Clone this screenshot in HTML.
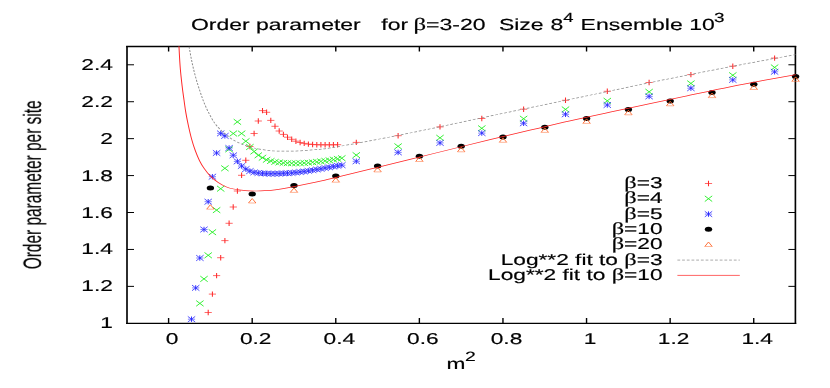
<!DOCTYPE html><html><head><meta charset="utf-8"><title>Order parameter</title>
<style>html,body{margin:0;padding:0;background:#fff;}svg{display:block}text{text-rendering:geometricPrecision;font-family:"Liberation Sans",sans-serif;fill:#000;stroke:#000;stroke-width:0.18px}.s{font-family:"Liberation Serif",serif}</style></head><body>
<svg width="830" height="388" viewBox="0 0 830 388">
<rect x="0" y="0" width="830" height="388" fill="#fff"/>
<g opacity="0.999">
<defs><clipPath id="cp"><rect x="126.8" y="46.3" width="668.9" height="276.8"/></clipPath></defs>
<g stroke="#000" fill="none">
<path d="M127.00 46.00 V323.95 M795.40 46.00 V323.95" stroke-width="1.65"/>
<path d="M126.15 46.50 H796.25 M126.15 323.30 H796.25" stroke-width="1.3"/>
<path d="M168.60 323.30 v-5.3 M168.60 46.50 v4.9 M252.19 323.30 v-5.3 M252.19 46.50 v4.9 M335.78 323.30 v-5.3 M335.78 46.50 v4.9 M419.37 323.30 v-5.3 M419.37 46.50 v4.9 M502.96 323.30 v-5.3 M502.96 46.50 v4.9 M586.55 323.30 v-5.3 M586.55 46.50 v4.9 M670.14 323.30 v-5.3 M670.14 46.50 v4.9 M753.73 323.30 v-5.3 M753.73 46.50 v4.9 " stroke-width="1.4"/>
<path d="M127.00 286.37 h7.0 M795.40 286.37 h-7.0 M127.00 249.44 h7.0 M795.40 249.44 h-7.0 M127.00 212.51 h7.0 M795.40 212.51 h-7.0 M127.00 175.58 h7.0 M795.40 175.58 h-7.0 M127.00 138.65 h7.0 M795.40 138.65 h-7.0 M127.00 101.72 h7.0 M795.40 101.72 h-7.0 M127.00 64.79 h7.0 M795.40 64.79 h-7.0 " stroke-width="1.0"/>
</g>
<text transform="translate(112.9 328.3) scale(1.455 1)" font-size="15.60" text-anchor="end">1</text>
<text transform="translate(112.9 291.4) scale(1.455 1)" font-size="15.60" text-anchor="end">1.2</text>
<text transform="translate(112.9 254.4) scale(1.455 1)" font-size="15.60" text-anchor="end">1.4</text>
<text transform="translate(112.9 217.5) scale(1.455 1)" font-size="15.60" text-anchor="end">1.6</text>
<text transform="translate(112.9 180.6) scale(1.455 1)" font-size="15.60" text-anchor="end">1.8</text>
<text transform="translate(112.9 143.7) scale(1.455 1)" font-size="15.60" text-anchor="end">2</text>
<text transform="translate(112.9 106.7) scale(1.455 1)" font-size="15.60" text-anchor="end">2.2</text>
<text transform="translate(112.9 69.8) scale(1.455 1)" font-size="15.60" text-anchor="end">2.4</text>
<text transform="translate(172.1 344.4) scale(1.455 1)" font-size="15.60" text-anchor="middle">0</text>
<text transform="translate(255.7 344.4) scale(1.455 1)" font-size="15.60" text-anchor="middle">0.2</text>
<text transform="translate(339.3 344.4) scale(1.455 1)" font-size="15.60" text-anchor="middle">0.4</text>
<text transform="translate(422.9 344.4) scale(1.455 1)" font-size="15.60" text-anchor="middle">0.6</text>
<text transform="translate(506.5 344.4) scale(1.455 1)" font-size="15.60" text-anchor="middle">0.8</text>
<text transform="translate(590.1 344.4) scale(1.455 1)" font-size="15.60" text-anchor="middle">1</text>
<text transform="translate(673.6 344.4) scale(1.455 1)" font-size="15.60" text-anchor="middle">1.2</text>
<text transform="translate(757.2 344.4) scale(1.455 1)" font-size="15.60" text-anchor="middle">1.4</text>
<text transform="translate(191.0 30.3) scale(1.435 1)" font-size="16.00" text-anchor="start">Order parameter</text>
<text transform="translate(381.3 30.3) scale(1.435 1)" font-size="16.00" text-anchor="start">for</text>
<text transform="translate(413.5 30.3) scale(1.435 1)" font-size="16.00" text-anchor="start"><tspan class="s" font-size="17.3">β</tspan>=3-20</text>
<text transform="translate(498.9 30.3) scale(1.435 1)" font-size="16.00" text-anchor="start">Size</text>
<text transform="translate(550.4 30.3) scale(1.435 1)" font-size="16.00" text-anchor="start">8</text>
<text transform="translate(563.2 22.0) scale(1.400 1)" font-size="13.20" text-anchor="start">4</text>
<text transform="translate(580.6 30.3) scale(1.435 1)" font-size="16.00" text-anchor="start">Ensemble</text>
<text transform="translate(689.3 30.3) scale(1.435 1)" font-size="16.00" text-anchor="start">10</text>
<text transform="translate(714.0 22.1) scale(1.430 1)" font-size="13.20" text-anchor="start">3</text>
<text transform="translate(446.6 368.9) scale(1.455 1)" font-size="15.60" text-anchor="start">m</text>
<text transform="translate(465.1 360.9) scale(1.430 1)" font-size="13.57" text-anchor="start">2</text>
<text transform="translate(40.9 184.8) rotate(-90) scale(0.617 1)" font-size="25" text-anchor="middle" stroke="none">Order parameter per site</text>
<text transform="translate(662.6 188.0) scale(1.455 1)" font-size="15.60" text-anchor="end"><tspan class="s" font-size="16.8">β</tspan>=3</text>
<text transform="translate(662.6 203.4) scale(1.455 1)" font-size="15.60" text-anchor="end"><tspan class="s" font-size="16.8">β</tspan>=4</text>
<text transform="translate(662.6 218.8) scale(1.455 1)" font-size="15.60" text-anchor="end"><tspan class="s" font-size="16.8">β</tspan>=5</text>
<text transform="translate(662.6 234.1) scale(1.455 1)" font-size="15.60" text-anchor="end"><tspan class="s" font-size="16.8">β</tspan>=10</text>
<text transform="translate(662.6 249.4) scale(1.455 1)" font-size="15.60" text-anchor="end"><tspan class="s" font-size="16.8">β</tspan>=20</text>
<text transform="translate(662.6 264.7) scale(1.455 1)" font-size="15.60" text-anchor="end">Log**2 fit to <tspan class="s" font-size="16.8">β</tspan>=3</text>
<text transform="translate(662.6 280.0) scale(1.455 1)" font-size="15.60" text-anchor="end">Log**2 fit to <tspan class="s" font-size="16.8">β</tspan>=10</text>
<path d="M677.4 260.1 H739.8" stroke="#8c8c8c" stroke-width="0.72" stroke-dasharray="2.8 1.9" fill="none"/>
<path d="M677.4 275.4 H739.8" stroke="#ff2828" stroke-width="0.72" fill="none"/>
<path d="M204.6 312.5 h7.2 M208.8 294.1 h7.2 M213.0 275.6 h7.2 M217.1 257.7 h7.2 M221.3 240.6 h7.2 M225.5 223.3 h7.2 M229.7 207.0 h7.2 M233.8 191.0 h7.2 M238.0 175.3 h7.2 M242.2 160.3 h7.2 M246.3 146.5 h7.2 M250.5 133.5 h7.2 M254.7 121.0 h7.2 M258.9 110.6 h7.2 M263.0 112.3 h7.2 M267.2 120.4 h7.2 M271.4 126.3 h7.2 M275.6 131.0 h7.2 M279.8 134.4 h7.2 M283.9 137.2 h7.2 M288.1 139.3 h7.2 M292.3 141.2 h7.2 M296.4 142.5 h7.2 M300.6 143.4 h7.2 M304.8 144.1 h7.2 M309.0 144.5 h7.2 M313.1 144.7 h7.2 M317.3 144.8 h7.2 M321.5 144.8 h7.2 M325.7 144.8 h7.2 M329.8 144.8 h7.2 M334.0 144.7 h7.2 M352.7 142.4 h7.2 M394.5 135.7 h7.2 M436.4 126.9 h7.2 M478.2 118.5 h7.2 M520.0 109.2 h7.2 M561.9 100.3 h7.2 M603.7 91.3 h7.2 M645.5 82.5 h7.2 M687.3 74.6 h7.2 M729.2 66.2 h7.2 M771.0 58.1 h7.2 M704.9 183.5 h7.2 " stroke="#ff2a2a" stroke-width="0.7" fill="none"/>
<path d="M208.2 309.8 v5.4 M212.4 291.4 v5.4 M216.6 272.9 v5.4 M220.7 255.0 v5.4 M224.9 237.9 v5.4 M229.1 220.6 v5.4 M233.2 204.3 v5.4 M237.4 188.3 v5.4 M241.6 172.6 v5.4 M245.8 157.6 v5.4 M249.9 143.8 v5.4 M254.1 130.8 v5.4 M258.3 118.3 v5.4 M262.5 107.9 v5.4 M266.6 109.6 v5.4 M270.8 117.7 v5.4 M275.0 123.6 v5.4 M279.2 128.3 v5.4 M283.4 131.7 v5.4 M287.5 134.5 v5.4 M291.7 136.6 v5.4 M295.9 138.5 v5.4 M300.1 139.8 v5.4 M304.2 140.7 v5.4 M308.4 141.4 v5.4 M312.6 141.8 v5.4 M316.8 142.0 v5.4 M320.9 142.1 v5.4 M325.1 142.1 v5.4 M329.3 142.1 v5.4 M333.4 142.1 v5.4 M337.6 142.0 v5.4 M356.3 139.7 v5.4 M398.1 133.0 v5.4 M440.0 124.2 v5.4 M481.8 115.8 v5.4 M523.6 106.5 v5.4 M565.5 97.6 v5.4 M607.3 88.6 v5.4 M649.1 79.8 v5.4 M690.9 71.9 v5.4 M732.8 63.5 v5.4 M774.6 55.4 v5.4 M708.5 180.8 v5.4 " stroke="#ff2a2a" stroke-width="1.05" fill="none"/>
<path d="M196.2 300.6 l7.4 5.6 M196.2 306.2 l7.4 -5.6 M200.3 276.1 l7.4 5.6 M200.3 281.7 l7.4 -5.6 M204.5 252.5 l7.4 5.6 M204.5 258.1 l7.4 -5.6 M208.7 229.4 l7.4 5.6 M208.7 235.0 l7.4 -5.6 M212.9 207.3 l7.4 5.6 M212.9 212.9 l7.4 -5.6 M217.0 185.9 l7.4 5.6 M217.0 191.5 l7.4 -5.6 M221.2 165.5 l7.4 5.6 M221.2 171.1 l7.4 -5.6 M225.4 146.5 l7.4 5.6 M225.4 152.1 l7.4 -5.6 M229.6 130.7 l7.4 5.6 M229.6 136.3 l7.4 -5.6 M233.7 119.1 l7.4 5.6 M233.7 124.7 l7.4 -5.6 M237.9 130.7 l7.4 5.6 M237.9 136.3 l7.4 -5.6 M242.1 138.4 l7.4 5.6 M242.1 144.0 l7.4 -5.6 M246.2 144.2 l7.4 5.6 M246.2 149.8 l7.4 -5.6 M250.4 148.7 l7.4 5.6 M250.4 154.3 l7.4 -5.6 M254.6 152.5 l7.4 5.6 M254.6 158.1 l7.4 -5.6 M258.8 154.9 l7.4 5.6 M258.8 160.5 l7.4 -5.6 M262.9 157.0 l7.4 5.6 M262.9 162.6 l7.4 -5.6 M267.1 158.2 l7.4 5.6 M267.1 163.8 l7.4 -5.6 M271.3 159.1 l7.4 5.6 M271.3 164.7 l7.4 -5.6 M275.5 159.7 l7.4 5.6 M275.5 165.3 l7.4 -5.6 M279.7 160.1 l7.4 5.6 M279.7 165.7 l7.4 -5.6 M283.8 160.4 l7.4 5.6 M283.8 166.0 l7.4 -5.6 M288.0 160.5 l7.4 5.6 M288.0 166.1 l7.4 -5.6 M292.2 160.5 l7.4 5.6 M292.2 166.1 l7.4 -5.6 M296.4 160.4 l7.4 5.6 M296.4 166.0 l7.4 -5.6 M300.5 160.2 l7.4 5.6 M300.5 165.8 l7.4 -5.6 M304.7 159.9 l7.4 5.6 M304.7 165.5 l7.4 -5.6 M308.9 159.5 l7.4 5.6 M308.9 165.1 l7.4 -5.6 M313.1 159.1 l7.4 5.6 M313.1 164.7 l7.4 -5.6 M317.2 158.6 l7.4 5.6 M317.2 164.2 l7.4 -5.6 M321.4 158.1 l7.4 5.6 M321.4 163.7 l7.4 -5.6 M325.6 157.5 l7.4 5.6 M325.6 163.1 l7.4 -5.6 M329.8 156.8 l7.4 5.6 M329.8 162.4 l7.4 -5.6 M333.9 156.1 l7.4 5.6 M333.9 161.7 l7.4 -5.6 M338.1 155.4 l7.4 5.6 M338.1 161.0 l7.4 -5.6 M352.6 152.3 l7.4 5.6 M352.6 157.9 l7.4 -5.6 M394.4 143.5 l7.4 5.6 M394.4 149.1 l7.4 -5.6 M436.3 135.0 l7.4 5.6 M436.3 140.6 l7.4 -5.6 M478.1 125.5 l7.4 5.6 M478.1 131.1 l7.4 -5.6 M519.9 115.9 l7.4 5.6 M519.9 121.5 l7.4 -5.6 M561.8 106.6 l7.4 5.6 M561.8 112.2 l7.4 -5.6 M603.6 98.0 l7.4 5.6 M603.6 103.6 l7.4 -5.6 M645.4 89.0 l7.4 5.6 M645.4 94.6 l7.4 -5.6 M687.2 80.6 l7.4 5.6 M687.2 86.2 l7.4 -5.6 M729.1 72.4 l7.4 5.6 M729.1 78.0 l7.4 -5.6 M770.9 64.6 l7.4 5.6 M770.9 70.2 l7.4 -5.6 M704.8 195.9 l7.4 5.6 M704.8 201.5 l7.4 -5.6 " stroke="#22ee22" stroke-width="0.9" fill="none"/>
<path d="M187.9 319.2 h7.2 M192.1 287.9 h7.2 M196.2 258.0 h7.2 M200.4 229.5 h7.2 M204.6 201.7 h7.2 M208.8 176.7 h7.2 M213.0 153.0 h7.2 M217.1 133.4 h7.2 M221.3 135.9 h7.2 M225.5 148.0 h7.2 M229.7 155.3 h7.2 M233.8 161.4 h7.2 M238.0 166.0 h7.2 M242.2 169.1 h7.2 M246.3 171.1 h7.2 M250.5 172.4 h7.2 M254.7 173.0 h7.2 M258.9 173.4 h7.2 M263.0 173.6 h7.2 M267.2 173.7 h7.2 M271.4 173.7 h7.2 M275.6 173.6 h7.2 M279.8 173.4 h7.2 M283.9 173.2 h7.2 M288.1 172.9 h7.2 M292.3 172.5 h7.2 M296.4 172.0 h7.2 M300.6 171.5 h7.2 M304.8 170.9 h7.2 M309.0 170.2 h7.2 M313.1 169.5 h7.2 M317.3 168.8 h7.2 M321.5 168.0 h7.2 M325.7 167.3 h7.2 M329.8 166.5 h7.2 M334.0 165.8 h7.2 M338.2 165.2 h7.2 M352.7 161.3 h7.2 M394.5 152.4 h7.2 M436.4 142.9 h7.2 M478.2 133.1 h7.2 M520.0 123.3 h7.2 M561.9 114.3 h7.2 M603.7 105.0 h7.2 M645.5 96.4 h7.2 M687.3 88.2 h7.2 M729.2 79.9 h7.2 M771.0 71.8 h7.2 M704.9 214.1 h7.2 " stroke="#2a2aff" stroke-width="0.6" fill="none"/>
<path d="M191.5 316.5 v5.4 M195.7 285.2 v5.4 M199.8 255.3 v5.4 M204.0 226.8 v5.4 M208.2 199.0 v5.4 M212.4 174.0 v5.4 M216.6 150.3 v5.4 M220.7 130.7 v5.4 M224.9 133.2 v5.4 M229.1 145.3 v5.4 M233.2 152.6 v5.4 M237.4 158.7 v5.4 M241.6 163.3 v5.4 M245.8 166.4 v5.4 M249.9 168.4 v5.4 M254.1 169.7 v5.4 M258.3 170.3 v5.4 M262.5 170.7 v5.4 M266.6 170.9 v5.4 M270.8 171.0 v5.4 M275.0 171.0 v5.4 M279.2 170.9 v5.4 M283.4 170.7 v5.4 M287.5 170.5 v5.4 M291.7 170.2 v5.4 M295.9 169.8 v5.4 M300.1 169.3 v5.4 M304.2 168.8 v5.4 M308.4 168.2 v5.4 M312.6 167.5 v5.4 M316.8 166.8 v5.4 M320.9 166.1 v5.4 M325.1 165.3 v5.4 M329.3 164.6 v5.4 M333.4 163.8 v5.4 M337.6 163.1 v5.4 M341.8 162.5 v5.4 M356.3 158.6 v5.4 M398.1 149.7 v5.4 M440.0 140.2 v5.4 M481.8 130.4 v5.4 M523.6 120.6 v5.4 M565.5 111.6 v5.4 M607.3 102.3 v5.4 M649.1 93.7 v5.4 M690.9 85.5 v5.4 M732.8 77.2 v5.4 M774.6 69.1 v5.4 M708.5 211.4 v5.4 " stroke="#2a2aff" stroke-width="0.95" fill="none"/>
<path d="M187.8 316.4 l7.4 5.6 M187.8 322.0 l7.4 -5.6 M192.0 285.1 l7.4 5.6 M192.0 290.7 l7.4 -5.6 M196.2 255.2 l7.4 5.6 M196.2 260.8 l7.4 -5.6 M200.3 226.7 l7.4 5.6 M200.3 232.3 l7.4 -5.6 M204.5 198.9 l7.4 5.6 M204.5 204.5 l7.4 -5.6 M208.7 173.9 l7.4 5.6 M208.7 179.5 l7.4 -5.6 M212.9 150.2 l7.4 5.6 M212.9 155.8 l7.4 -5.6 M217.0 130.6 l7.4 5.6 M217.0 136.2 l7.4 -5.6 M221.2 133.1 l7.4 5.6 M221.2 138.7 l7.4 -5.6 M225.4 145.2 l7.4 5.6 M225.4 150.8 l7.4 -5.6 M229.6 152.5 l7.4 5.6 M229.6 158.1 l7.4 -5.6 M233.7 158.6 l7.4 5.6 M233.7 164.2 l7.4 -5.6 M237.9 163.2 l7.4 5.6 M237.9 168.8 l7.4 -5.6 M242.1 166.3 l7.4 5.6 M242.1 171.9 l7.4 -5.6 M246.2 168.3 l7.4 5.6 M246.2 173.9 l7.4 -5.6 M250.4 169.6 l7.4 5.6 M250.4 175.2 l7.4 -5.6 M254.6 170.2 l7.4 5.6 M254.6 175.8 l7.4 -5.6 M258.8 170.6 l7.4 5.6 M258.8 176.2 l7.4 -5.6 M262.9 170.8 l7.4 5.6 M262.9 176.4 l7.4 -5.6 M267.1 170.9 l7.4 5.6 M267.1 176.5 l7.4 -5.6 M271.3 170.9 l7.4 5.6 M271.3 176.5 l7.4 -5.6 M275.5 170.8 l7.4 5.6 M275.5 176.4 l7.4 -5.6 M279.7 170.6 l7.4 5.6 M279.7 176.2 l7.4 -5.6 M283.8 170.4 l7.4 5.6 M283.8 176.0 l7.4 -5.6 M288.0 170.1 l7.4 5.6 M288.0 175.7 l7.4 -5.6 M292.2 169.7 l7.4 5.6 M292.2 175.3 l7.4 -5.6 M296.4 169.2 l7.4 5.6 M296.4 174.8 l7.4 -5.6 M300.5 168.7 l7.4 5.6 M300.5 174.3 l7.4 -5.6 M304.7 168.1 l7.4 5.6 M304.7 173.7 l7.4 -5.6 M308.9 167.4 l7.4 5.6 M308.9 173.0 l7.4 -5.6 M313.1 166.7 l7.4 5.6 M313.1 172.3 l7.4 -5.6 M317.2 166.0 l7.4 5.6 M317.2 171.6 l7.4 -5.6 M321.4 165.2 l7.4 5.6 M321.4 170.8 l7.4 -5.6 M325.6 164.5 l7.4 5.6 M325.6 170.1 l7.4 -5.6 M329.8 163.7 l7.4 5.6 M329.8 169.3 l7.4 -5.6 M333.9 163.0 l7.4 5.6 M333.9 168.6 l7.4 -5.6 M338.1 162.4 l7.4 5.6 M338.1 168.0 l7.4 -5.6 M352.6 158.5 l7.4 5.6 M352.6 164.1 l7.4 -5.6 M394.4 149.6 l7.4 5.6 M394.4 155.2 l7.4 -5.6 M436.3 140.1 l7.4 5.6 M436.3 145.7 l7.4 -5.6 M478.1 130.3 l7.4 5.6 M478.1 135.9 l7.4 -5.6 M519.9 120.5 l7.4 5.6 M519.9 126.1 l7.4 -5.6 M561.8 111.5 l7.4 5.6 M561.8 117.1 l7.4 -5.6 M603.6 102.2 l7.4 5.6 M603.6 107.8 l7.4 -5.6 M645.4 93.6 l7.4 5.6 M645.4 99.2 l7.4 -5.6 M687.2 85.4 l7.4 5.6 M687.2 91.0 l7.4 -5.6 M729.1 77.1 l7.4 5.6 M729.1 82.7 l7.4 -5.6 M770.9 69.0 l7.4 5.6 M770.9 74.6 l7.4 -5.6 M704.8 211.3 l7.4 5.6 M704.8 216.9 l7.4 -5.6 " stroke="#2a2aff" stroke-width="0.8" fill="none"/>
<ellipse cx="210.4" cy="187.9" rx="3.7" ry="2.5" fill="#000"/>
<ellipse cx="252.2" cy="194.0" rx="3.7" ry="2.5" fill="#000"/>
<ellipse cx="294.0" cy="185.6" rx="3.7" ry="2.5" fill="#000"/>
<ellipse cx="335.8" cy="176.0" rx="3.7" ry="2.5" fill="#000"/>
<ellipse cx="377.6" cy="166.1" rx="3.7" ry="2.5" fill="#000"/>
<ellipse cx="419.4" cy="156.3" rx="3.7" ry="2.5" fill="#000"/>
<ellipse cx="461.2" cy="146.3" rx="3.7" ry="2.5" fill="#000"/>
<ellipse cx="503.0" cy="137.1" rx="3.7" ry="2.5" fill="#000"/>
<ellipse cx="544.8" cy="127.2" rx="3.7" ry="2.5" fill="#000"/>
<ellipse cx="586.6" cy="118.4" rx="3.7" ry="2.5" fill="#000"/>
<ellipse cx="628.4" cy="109.4" rx="3.7" ry="2.5" fill="#000"/>
<ellipse cx="670.2" cy="101.1" rx="3.7" ry="2.5" fill="#000"/>
<ellipse cx="712.0" cy="92.6" rx="3.7" ry="2.5" fill="#000"/>
<ellipse cx="753.8" cy="84.3" rx="3.7" ry="2.5" fill="#000"/>
<ellipse cx="795.6" cy="76.4" rx="3.7" ry="2.5" fill="#000"/>
<ellipse cx="708.5" cy="229.3" rx="3.7" ry="2.5" fill="#000"/>
<path d="M206.7 209.2 L210.4 204.7 L214.1 209.2 M248.5 203.0 L252.2 198.5 L255.9 203.0 M290.3 192.4 L294.0 187.9 L297.7 192.4 M332.1 182.2 L335.8 177.7 L339.5 182.2 M373.9 171.9 L377.6 167.4 L381.3 171.9 M415.7 161.5 L419.4 157.0 L423.1 161.5 M457.5 151.8 L461.2 147.3 L464.9 151.8 M499.3 142.3 L503.0 137.8 L506.7 142.3 M541.1 132.4 L544.8 127.9 L548.5 132.4 M582.9 123.4 L586.6 118.9 L590.3 123.4 M624.7 114.8 L628.4 110.3 L632.1 114.8 M666.5 105.8 L670.2 101.3 L673.9 105.8 M708.3 97.6 L712.0 93.1 L715.7 97.6 M750.1 89.5 L753.8 85.0 L757.5 89.5 M791.9 81.4 L795.6 76.9 L799.3 81.4 M704.8 246.5 L708.5 242.0 L712.2 246.5 " stroke="#ff6a30" stroke-width="0.95" fill="none" stroke-linejoin="miter"/>
<path d="M206.7 209.2 h7.4 M248.5 203.0 h7.4 M290.3 192.4 h7.4 M332.1 182.2 h7.4 M373.9 171.9 h7.4 M415.7 161.5 h7.4 M457.5 151.8 h7.4 M499.3 142.3 h7.4 M541.1 132.4 h7.4 M582.9 123.4 h7.4 M624.7 114.8 h7.4 M666.5 105.8 h7.4 M708.3 97.6 h7.4 M750.1 89.5 h7.4 M791.9 81.4 h7.4 M704.8 246.5 h7.4 " stroke="#ff6a30" stroke-width="0.5" fill="none"/>
<g clip-path="url(#cp)"><g transform="scale(1.40 1)">
<path d="M133.43 30.00 C133.71 32.85 134.48 41.42 135.14 47.10 C135.81 52.78 136.58 58.68 137.43 64.10 C138.27 69.52 139.29 74.97 140.21 79.60 C141.14 84.23 142.11 88.17 143.00 91.90 C143.89 95.63 144.58 98.58 145.57 102.00 C146.56 105.42 147.63 108.87 148.93 112.40 C150.23 115.93 151.80 120.12 153.36 123.20 C154.92 126.28 156.63 128.63 158.29 130.90 C159.94 133.17 161.63 135.08 163.29 136.80 C164.94 138.52 166.50 139.90 168.21 141.20 C169.93 142.50 171.37 143.47 173.57 144.60 C175.77 145.73 178.27 147.00 181.43 148.00 C184.58 149.00 188.81 150.07 192.50 150.60 C196.19 151.13 199.89 151.17 203.57 151.20 C207.25 151.23 210.90 151.07 214.57 150.80 C218.24 150.53 222.05 150.07 225.57 149.60 C229.10 149.13 229.26 149.47 235.71 148.00 C242.17 146.53 254.76 143.30 264.29 140.80 C273.81 138.30 283.33 135.70 292.86 133.00 C302.38 130.30 311.90 127.42 321.43 124.60 C330.95 121.78 340.48 118.92 350.00 116.10 C359.52 113.28 369.05 110.48 378.57 107.70 C388.10 104.92 397.62 102.18 407.14 99.40 C416.67 96.62 426.19 93.80 435.71 91.00 C445.24 88.20 454.76 85.33 464.29 82.60 C473.81 79.87 483.33 77.24 492.86 74.60 C502.38 71.96 512.50 69.15 521.43 66.75 C530.36 64.35 538.57 62.24 546.43 60.20 C554.29 58.16 564.88 55.45 568.57 54.50" fill="none" stroke="#8c8c8c" stroke-width="0.72" stroke-dasharray="2.0 1.35"/>
<path d="M127.29 30.00 C127.38 32.85 127.62 40.90 127.86 47.10 C128.10 53.30 128.35 60.75 128.71 67.20 C129.08 73.65 129.62 80.33 130.07 85.80 C130.52 91.27 130.99 95.57 131.43 100.00 C131.87 104.43 132.21 108.28 132.71 112.40 C133.21 116.52 133.75 120.32 134.43 124.70 C135.11 129.08 135.94 134.38 136.79 138.70 C137.63 143.02 138.54 146.92 139.50 150.60 C140.46 154.28 141.50 157.80 142.57 160.80 C143.64 163.80 144.63 166.02 145.93 168.60 C147.23 171.18 148.70 173.98 150.36 176.30 C152.01 178.62 154.02 180.77 155.86 182.50 C157.69 184.23 159.51 185.62 161.36 186.70 C163.20 187.78 165.08 188.42 166.93 189.00 C168.77 189.58 170.58 189.88 172.43 190.20 C174.27 190.52 176.15 190.77 178.00 190.90 C179.85 191.03 181.67 191.03 183.50 191.00 C185.33 190.97 186.85 190.90 189.00 190.70 C191.15 190.50 192.79 190.53 196.43 189.80 C200.07 189.07 206.00 187.57 210.86 186.30 C215.71 185.03 221.43 183.43 225.57 182.20 C229.71 180.97 229.26 181.07 235.71 178.90 C242.17 176.73 254.76 172.44 264.29 169.20 C273.81 165.96 283.33 162.73 292.86 159.45 C302.38 156.17 311.90 152.79 321.43 149.50 C330.95 146.21 340.48 142.92 350.00 139.70 C359.52 136.48 369.05 133.33 378.57 130.20 C388.10 127.07 397.62 123.90 407.14 120.90 C416.67 117.90 426.19 115.08 435.71 112.20 C445.24 109.33 454.76 106.48 464.29 103.65 C473.81 100.82 483.33 97.99 492.86 95.20 C502.38 92.41 512.50 89.40 521.43 86.90 C530.36 84.40 538.57 82.25 546.43 80.20 C554.29 78.15 564.88 75.53 568.57 74.60" fill="none" stroke="#ff2828" stroke-width="0.72"/>
</g></g>
</g></svg></body></html>
